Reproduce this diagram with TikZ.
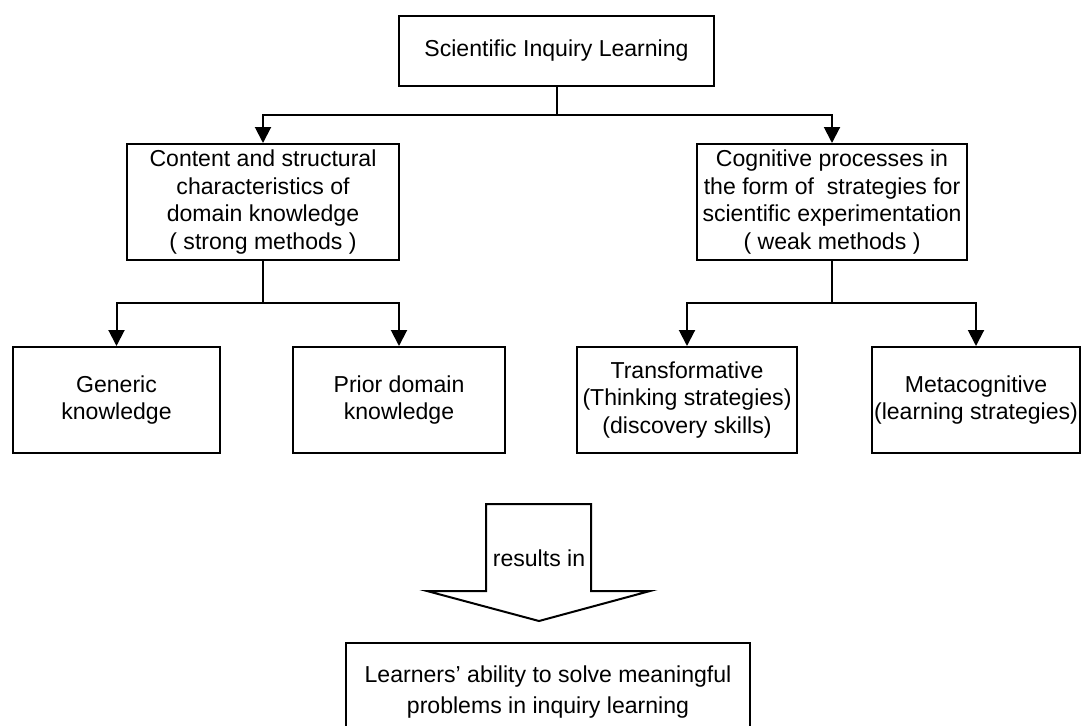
\documentclass[tikz,border=0pt]{standalone}
\usepackage{fontspec}
\setmainfont{Liberation Sans}
\usetikzlibrary{arrows.meta}
\begin{document}
\begin{tikzpicture}[x=0.75pt,y=-0.75pt,
  box/.style={draw=black,line width=1.5pt,fill=white,inner sep=0pt,align=center,
    font=\fontsize{17.3}{20.8}\selectfont},
  link/.style={line width=1.5pt,line join=miter},
  arr/.style={link,-{Triangle[width=12pt,length=12pt]}}]
\useasboundingbox (0,0) rectangle (1081,725);
\clip (0,0) rectangle (1081,725);
% top level
\node[box,minimum width=236.25pt,minimum height=52.5pt] (top) at (556.5,51) {Scientific Inquiry Learning};
% second level
\node[box,minimum width=204pt,minimum height=87pt] (lmid) at (263,202)
  {Content and structural\\characteristics of\\domain knowledge\\( strong methods )};
\node[box,minimum width=202.5pt,minimum height=87pt] (rmid) at (832,202)
  {Cognitive processes in\\the form of~ strategies for\\scientific experimentation\\( weak methods )};
% third level
\node[box,minimum width=155.25pt,minimum height=79.5pt] (gen) at (116.5,400) {Generic\\knowledge};
\node[box,minimum width=159pt,minimum height=79.5pt] (prior) at (399,400) {Prior domain\\knowledge};
\node[box,minimum width=165pt,minimum height=79.5pt] (trans) at (687,400)
  {Transformative\\(Thinking strategies)\\(discovery skills)};
\node[box,minimum width=156pt,minimum height=79.5pt] (meta) at (976,400)
  {Metacognitive\\(learning strategies)};
% outcome
\node[box,minimum width=303pt,minimum height=73.5pt,font=\fontsize{17.3}{23.3}\selectfont] (res) at (548,692)
  {Learners’ ability to solve meaningful\\problems in inquiry learning};
% junctions
\coordinate (j1) at (556.5,115);
\coordinate (j2) at (263,303);
\coordinate (j3) at (832,303);
\draw[link] (top.south) -- (j1);
\draw[arr] (j1) -| (lmid.north);
\draw[arr] (j1) -| (rmid.north);
\draw[link] (lmid.south) -- (j2);
\draw[arr] (j2) -| (gen.north);
\draw[arr] (j2) -| (prior.north);
\draw[link] (rmid.south) -- (j3);
\draw[arr] (j3) -| (trans.north);
\draw[arr] (j3) -| (meta.north);
% block arrow
\draw[line width=1.5pt,line join=miter,fill=white]
  (486,504) -- (591,504) -- (591,591) -- (650,591) -- (539,621) -- (427,591) -- (486,591) -- cycle;
\node[font=\fontsize{17.3}{20.8}\selectfont,inner sep=0pt] (lbl) at (539,558) {results in};
\end{tikzpicture}
\end{document}
